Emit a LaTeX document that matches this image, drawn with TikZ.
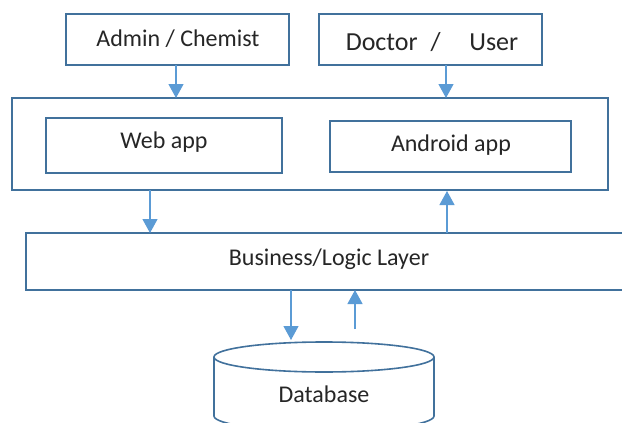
\documentclass[tikz,border=0pt]{standalone}
\usepackage{fontspec}
\setmainfont{Carlito}
\usetikzlibrary{arrows.meta}
\definecolor{boxblue}{HTML}{41719C}
\definecolor{arrblue}{HTML}{5B9BD5}
\begin{document}
\begin{tikzpicture}[x=1pt,y=-1pt,
  box/.style={draw=boxblue,line width=1.6pt},
  lbl/.style={inner sep=0pt,text=black!85,font=\fontsize{24}{28}\selectfont},
  conn/.style={draw=arrblue,line width=1.2pt,-{Triangle[width=15pt,length=14pt]}}]
\useasboundingbox (0,0) rectangle (622,423);
\clip (0,0) rectangle (622,423);
\fill[white] (0,0) rectangle (622,423);
% boxes
\draw[box] (66,14) rectangle (289,65);
\draw[box] (319,14) rectangle (542,65);
\draw[box] (12,98) rectangle (608,190);
\draw[box] (46,118) rectangle (282,173);
\draw[box] (330,121) rectangle (571,172);
\draw[box] (26,233) rectangle (630,290);
% database cylinder
\draw[box,fill=white] (214,357) -- (214,416) arc[start angle=180,end angle=0,x radius=110,y radius=15] -- (434,357);
\draw[box,fill=white] (324,357) ellipse[x radius=110,y radius=15];
% nodes
\node[lbl] (admin) at (178,39) {Admin / Chemist};
\node[lbl,font=\fontsize{26}{30}\selectfont] (doctor) at (432,42) {Doctor\hspace{0.5em}/\hspace{1.1em}User};
\node[lbl] (web) at (164,142) {Web app};
\node[lbl] (android) at (451,145) {Android app};
\node[lbl] (biz) at (329,259) {Business/Logic Layer};
\node[lbl] (db) at (324,394) {Database};
% connector coordinates
\coordinate (a1) at (176,65);  \coordinate (a2) at (176,98);
\coordinate (d1) at (446,65);  \coordinate (d2) at (446,98);
\coordinate (w1) at (150,190); \coordinate (w2) at (150,233);
\coordinate (u1) at (447,233); \coordinate (u2) at (447,191);
\coordinate (b1) at (291,290); \coordinate (b2) at (291,340);
\coordinate (c1) at (355,329); \coordinate (c2) at (355,290);
\draw[conn] (a1) -- (a2);
\draw[conn] (d1) -- (d2);
\draw[conn] (w1) -- (w2);
\draw[conn] (u1) -- (u2);
\draw[conn] (b1) -- (b2);
\draw[conn] (c1) -- (c2);
\end{tikzpicture}
\end{document}
